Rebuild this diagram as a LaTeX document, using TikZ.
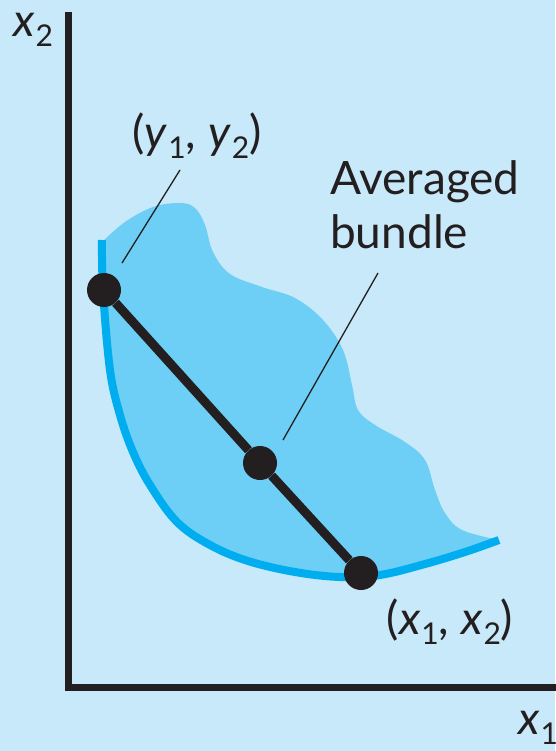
\documentclass[tikz,border=0pt]{standalone}
\usepackage{fontspec}
\setmainfont{Lato}
\definecolor{bg}{HTML}{C8E9F9}
\definecolor{blobc}{HTML}{6DCFF6}
\definecolor{curvec}{HTML}{00AEEF}
\definecolor{ink}{HTML}{231F20}
\tikzset{
  dotnode/.style={circle, fill=ink, inner sep=0pt, minimum size=34pt},
  lbl/.style={text=ink, inner sep=0pt, font=\fontsize{46}{54}\selectfont},
  leader/.style={draw=ink, line width=1.3pt},
}
\newcommand{\vsub}[2]{\textit{#1}\kern1pt\raisebox{-0.22em}{\fontsize{30}{30}\selectfont #2}}
\begin{document}
\begin{tikzpicture}[x=1pt,y=-1pt]
\useasboundingbox (0,0) rectangle (555,751);
\fill[bg] (0,0) rectangle (555,751);
% averaged region
\fill[blobc] plot[smooth, tension=0.6] coordinates {(102,242) (125,222) (153,207) (180,203) (195,208) (205,225) (213,252) (230,274) (262,287) (295,298) (323,320) (343,350) (352,385) (358,410) (375,425) (405,442) (425,460) (435,490) (445,513) (462,530) (499,540)}
 -- plot[smooth, tension=0.6] coordinates {(499,540) (465,552) (425,564) (380,575) (340,577) (295,572) (248,561) (210,545) (177,522) (150,485) (133,452) (120,415) (110,370) (104,300) (102,242)} -- cycle;
% indifference curve
\draw[curvec, line width=8pt] plot[smooth, tension=0.6] coordinates {(102,240) (103,290) (110,370) (120,415) (133,452) (150,485) (177,522) (210,545) (248,561) (295,572) (340,577) (380,575) (425,564) (465,552) (499,540)};
% axes
\draw[ink, line width=7pt, line join=miter] (68,12) -- (68,687) -- (560,687);
% points
\node[dotnode] (y) at (104,290) {};
\node[dotnode] (m) at (260,463) {};
\node[dotnode] (x) at (361,573) {};
\draw[ink, line width=9pt] (y) -- (m) -- (x);
% labels
\node[lbl] (lx2) at (33,30) {\vsub{x}{2}};
\node[lbl] (lx1) at (538,728) {\vsub{x}{1}};
\node[lbl] (ly) at (197,136) {(\vsub{y}{1}, \vsub{y}{2})};
\node[lbl] (lx) at (450,622) {(\vsub{x}{1}, \vsub{x}{2})};
\node[lbl, align=left, anchor=north west] (avg) at (330,160) {Averaged\\bundle};
% leaders
\coordinate (ly1) at (180,170);
\coordinate (ly2) at (122,263);
\coordinate (la1) at (378,273);
\coordinate (la2) at (283,440);
\draw[leader] (ly1) -- (ly2);
\draw[leader] (la1) -- (la2);
\end{tikzpicture}
\end{document}
